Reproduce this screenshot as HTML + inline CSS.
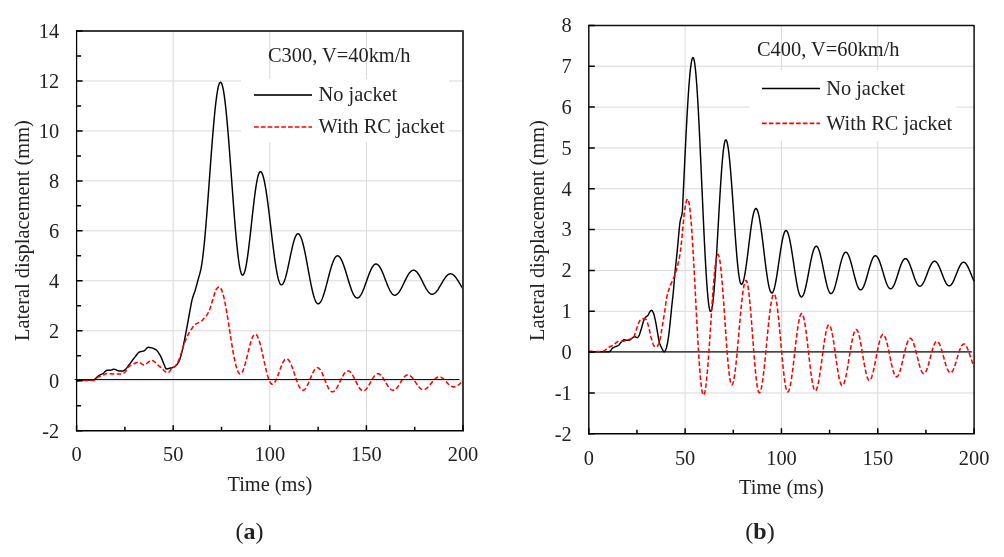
<!DOCTYPE html>
<html><head><meta charset="utf-8"><style>
html,body{margin:0;padding:0;background:#fff;width:1004px;height:557px;overflow:hidden}
svg{display:block;will-change:transform}
text{font-family:"Liberation Serif", serif;font-size:20.4px;fill:#222}
.cap{font-size:24px}
</style></head><body>
<svg width="1004" height="557" viewBox="0 0 1004 557">
<rect width="1004" height="557" fill="#fff"/>
<path d="M76.60 380.74H463.00 M76.60 330.77H463.00 M76.60 280.81H463.00 M76.60 230.85H463.00 M76.60 180.89H463.00 M76.60 130.93H463.00 M76.60 80.96H463.00 M173.20 31.00V430.70 M269.80 31.00V430.70 M366.40 31.00V430.70" stroke="#d9d9d9" stroke-width="1" fill="none"/>
<path d="M76.60 379.90 L77.10 379.90 L77.60 379.90 L78.10 379.90 L78.60 379.90 L79.10 379.90 L79.60 379.90 L80.10 379.90 L80.60 379.90 L81.10 379.90 L81.60 379.90 L82.10 379.90 L82.60 379.90 L83.10 379.90 L83.60 379.90 L84.10 379.90 L84.60 379.90 L85.10 379.90 L85.60 379.90 L86.10 379.90 L86.60 379.90 L87.10 379.90 L87.60 379.90 L88.10 379.90 L88.60 379.90 L89.10 379.90 L89.60 379.90 L90.10 379.90 L90.60 379.90 L91.10 379.90 L91.60 379.90 L92.10 379.90 L92.60 379.90 L93.10 379.90 L93.60 379.89 L94.10 379.69 L94.60 379.30 L95.10 378.88 L95.60 378.49 L96.10 378.05 L96.60 377.59 L97.10 377.11 L97.60 376.63 L98.10 376.18 L98.60 375.78 L99.10 375.44 L99.60 375.15 L100.10 374.90 L100.60 374.67 L101.10 374.44 L101.60 374.22 L102.10 373.98 L102.60 373.72 L103.10 373.40 L103.60 372.99 L104.10 372.52 L104.60 372.02 L105.10 371.52 L105.60 371.07 L106.10 370.69 L106.60 370.43 L107.10 370.30 L107.60 370.30 L108.10 370.30 L108.60 370.30 L109.10 370.30 L109.60 370.30 L110.10 370.30 L110.60 370.23 L111.10 370.10 L111.60 369.92 L112.10 369.72 L112.60 369.54 L113.10 369.39 L113.60 369.31 L114.10 369.32 L114.60 369.40 L115.10 369.53 L115.60 369.68 L116.10 369.83 L116.60 370.04 L117.10 370.31 L117.60 370.58 L118.10 370.79 L118.60 370.90 L119.10 370.90 L119.60 370.90 L120.10 370.90 L120.60 370.90 L121.10 370.90 L121.60 370.90 L122.10 370.90 L122.60 370.90 L123.10 370.90 L123.60 370.79 L124.10 370.50 L124.60 370.10 L125.10 369.67 L125.60 369.24 L126.10 368.74 L126.60 368.17 L127.10 367.54 L127.60 366.87 L128.10 366.19 L128.60 365.49 L129.10 364.80 L129.60 364.13 L130.10 363.48 L130.60 362.82 L131.10 362.14 L131.60 361.46 L132.10 360.78 L132.60 360.09 L133.10 359.42 L133.60 358.76 L134.10 358.12 L134.60 357.50 L135.10 356.87 L135.60 356.20 L136.10 355.52 L136.60 354.84 L137.10 354.19 L137.60 353.58 L138.10 353.03 L138.60 352.57 L139.10 352.20 L139.60 351.96 L140.10 351.79 L140.60 351.66 L141.10 351.55 L141.60 351.46 L142.10 351.37 L142.60 351.27 L143.10 351.15 L143.60 351.01 L144.10 350.81 L144.60 350.47 L145.10 350.00 L145.60 349.46 L146.10 348.89 L146.60 348.34 L147.10 347.87 L147.60 347.51 L148.10 347.32 L148.60 347.31 L149.10 347.35 L149.60 347.43 L150.10 347.53 L150.60 347.65 L151.10 347.77 L151.60 347.90 L152.10 348.03 L152.60 348.18 L153.10 348.35 L153.60 348.54 L154.10 348.76 L154.60 348.99 L155.10 349.26 L155.60 349.55 L156.10 349.87 L156.60 350.27 L157.10 350.78 L157.60 351.38 L158.10 352.06 L158.60 352.80 L159.10 353.59 L159.60 354.42 L160.10 355.28 L160.60 356.16 L161.10 357.20 L161.60 358.36 L162.10 359.60 L162.60 360.87 L163.10 362.11 L163.60 363.28 L164.10 364.46 L164.60 365.79 L165.10 367.11 L165.60 368.20 L166.10 368.88 L166.60 368.99 L167.10 368.93 L167.60 368.82 L168.10 368.68 L168.60 368.53 L169.10 368.40 L169.60 368.29 L170.10 368.18 L170.60 368.08 L171.10 367.97 L171.60 367.84 L172.10 367.70 L172.60 367.53 L173.10 367.33 L173.60 367.09 L174.10 366.81 L174.60 366.50 L175.10 366.16 L175.60 365.78 L176.10 365.35 L176.60 364.85 L177.10 364.27 L177.60 363.61 L178.10 362.87 L178.60 362.03 L179.10 361.10 L179.60 359.93 L180.10 358.48 L180.60 356.82 L181.10 355.00 L181.60 353.07 L182.10 351.09 L182.60 349.08 L183.10 346.91 L183.60 344.59 L184.10 342.14 L184.60 339.60 L185.10 336.99 L185.60 334.34 L186.10 331.68 L186.60 329.03 L187.10 326.36 L187.60 323.61 L188.10 320.82 L188.60 318.05 L189.10 315.27 L189.60 312.48 L190.10 309.76 L190.60 307.10 L191.10 304.42 L191.60 301.89 L192.10 299.70 L192.60 297.89 L193.10 296.31 L193.60 294.86 L194.10 293.48 L194.60 292.07 L195.10 290.55 L195.60 288.88 L196.10 287.10 L196.60 285.26 L197.10 283.38 L197.60 281.49 L198.10 279.63 L198.60 277.85 L199.10 276.11 L199.60 274.35 L200.10 272.50 L200.60 270.48 L201.10 268.20 L201.60 265.39 L202.10 262.16 L202.60 258.51 L203.10 254.45 L203.60 250.02 L204.10 245.22 L204.60 240.09 L205.10 234.64 L205.60 228.92 L206.10 222.94 L206.60 216.74 L207.10 210.34 L207.60 203.79 L208.10 197.11 L208.60 190.33 L209.10 183.50 L209.60 176.64 L210.10 169.80 L210.60 163.00 L211.10 156.27 L211.60 149.66 L212.10 143.20 L212.60 136.92 L213.10 130.85 L213.60 125.02 L214.10 119.46 L214.60 114.20 L215.10 109.26 L215.60 104.68 L216.10 100.47 L216.60 96.66 L217.10 93.25 L217.60 90.29 L218.10 87.76 L218.60 85.70 L219.10 84.11 L219.60 82.99 L220.10 82.37 L220.60 82.21 L221.10 82.54 L221.60 83.37 L222.10 84.68 L222.60 86.46 L223.10 88.71 L223.60 91.42 L224.10 94.56 L224.60 98.13 L225.10 102.11 L225.60 106.47 L226.10 111.19 L226.60 116.26 L227.10 121.65 L227.60 127.32 L228.10 133.25 L228.60 139.41 L229.10 145.77 L229.60 152.29 L230.10 158.95 L230.60 165.71 L231.10 172.53 L231.60 179.39 L232.10 186.24 L232.60 193.05 L233.10 199.79 L233.60 206.42 L234.10 212.92 L234.60 219.24 L235.10 225.36 L235.60 231.24 L236.10 236.85 L236.60 242.18 L237.10 247.18 L237.60 251.83 L238.10 256.12 L238.60 260.02 L239.10 263.50 L239.60 266.56 L240.10 269.17 L240.60 271.33 L241.10 273.01 L241.60 274.23 L242.10 274.96 L242.60 275.20 L243.10 275.00 L243.60 274.39 L244.10 273.39 L244.60 272.00 L245.10 270.24 L245.60 268.11 L246.10 265.63 L246.60 262.82 L247.10 259.70 L247.60 256.30 L248.10 252.65 L248.60 248.77 L249.10 244.69 L249.60 240.45 L250.10 236.07 L250.60 231.59 L251.10 227.05 L251.60 222.49 L252.10 217.92 L252.60 213.41 L253.10 208.97 L253.60 204.64 L254.10 200.45 L254.60 196.45 L255.10 192.66 L255.60 189.10 L256.10 185.81 L256.60 182.82 L257.10 180.14 L257.60 177.80 L258.10 175.81 L258.60 174.19 L259.10 172.96 L259.60 172.11 L260.10 171.69 L260.60 171.63 L261.10 171.90 L261.60 172.51 L262.10 173.42 L262.60 174.64 L263.10 176.16 L263.60 177.97 L264.10 180.06 L264.60 182.42 L265.10 185.04 L265.60 187.89 L266.10 190.98 L266.60 194.27 L267.10 197.75 L267.60 201.41 L268.10 205.21 L268.60 209.14 L269.10 213.18 L269.60 217.30 L270.10 221.49 L270.60 225.71 L271.10 229.94 L271.60 234.17 L272.10 238.37 L272.60 242.50 L273.10 246.56 L273.60 250.51 L274.10 254.35 L274.60 258.03 L275.10 261.55 L275.60 264.88 L276.10 268.01 L276.60 270.91 L277.10 273.58 L277.60 275.99 L278.10 278.14 L278.60 280.00 L279.10 281.58 L279.60 282.86 L280.10 283.83 L280.60 284.50 L281.10 284.83 L281.60 284.88 L282.10 284.68 L282.60 284.25 L283.10 283.59 L283.60 282.71 L284.10 281.63 L284.60 280.35 L285.10 278.88 L285.60 277.23 L286.10 275.42 L286.60 273.47 L287.10 271.39 L287.60 269.21 L288.10 266.93 L288.60 264.59 L289.10 262.20 L289.60 259.78 L290.10 257.36 L290.60 254.96 L291.10 252.60 L291.60 250.29 L292.10 248.07 L292.60 245.95 L293.10 243.94 L293.60 242.07 L294.10 240.36 L294.60 238.82 L295.10 237.46 L295.60 236.30 L296.10 235.34 L296.60 234.59 L297.10 234.07 L297.60 233.78 L298.10 233.71 L298.60 233.85 L299.10 234.21 L299.60 234.79 L300.10 235.57 L300.60 236.55 L301.10 237.73 L301.60 239.10 L302.10 240.65 L302.60 242.37 L303.10 244.26 L303.60 246.29 L304.10 248.46 L304.60 250.75 L305.10 253.16 L305.60 255.65 L306.10 258.23 L306.60 260.87 L307.10 263.56 L307.60 266.29 L308.10 269.02 L308.60 271.76 L309.10 274.48 L309.60 277.16 L310.10 279.79 L310.60 282.35 L311.10 284.83 L311.60 287.21 L312.10 289.48 L312.60 291.63 L313.10 293.63 L313.60 295.48 L314.10 297.17 L314.60 298.68 L315.10 300.02 L315.60 301.16 L316.10 302.10 L316.60 302.84 L317.10 303.37 L317.60 303.69 L318.10 303.80 L318.60 303.72 L319.10 303.49 L319.60 303.09 L320.10 302.55 L320.60 301.86 L321.10 301.02 L321.60 300.05 L322.10 298.94 L322.60 297.70 L323.10 296.35 L323.60 294.89 L324.10 293.33 L324.60 291.69 L325.10 289.96 L325.60 288.17 L326.10 286.32 L326.60 284.43 L327.10 282.51 L327.60 280.58 L328.10 278.63 L328.60 276.70 L329.10 274.78 L329.60 272.90 L330.10 271.07 L330.60 269.29 L331.10 267.58 L331.60 265.95 L332.10 264.41 L332.60 262.97 L333.10 261.64 L333.60 260.43 L334.10 259.35 L334.60 258.40 L335.10 257.59 L335.60 256.93 L336.10 256.42 L336.60 256.06 L337.10 255.86 L337.60 255.80 L338.10 255.89 L338.60 256.12 L339.10 256.48 L339.60 256.97 L340.10 257.59 L340.60 258.33 L341.10 259.18 L341.60 260.15 L342.10 261.23 L342.60 262.40 L343.10 263.67 L343.60 265.02 L344.10 266.45 L344.60 267.94 L345.10 269.49 L345.60 271.09 L346.10 272.72 L346.60 274.38 L347.10 276.06 L347.60 277.74 L348.10 279.42 L348.60 281.08 L349.10 282.71 L349.60 284.31 L350.10 285.86 L350.60 287.35 L351.10 288.78 L351.60 290.13 L352.10 291.40 L352.60 292.57 L353.10 293.65 L353.60 294.62 L354.10 295.47 L354.60 296.21 L355.10 296.83 L355.60 297.32 L356.10 297.68 L356.60 297.91 L357.10 298.00 L357.60 297.96 L358.10 297.81 L358.60 297.54 L359.10 297.15 L359.60 296.65 L360.10 296.04 L360.60 295.33 L361.10 294.52 L361.60 293.61 L362.10 292.61 L362.60 291.54 L363.10 290.39 L363.60 289.17 L364.10 287.90 L364.60 286.58 L365.10 285.22 L365.60 283.83 L366.10 282.42 L366.60 281.00 L367.10 279.58 L367.60 278.17 L368.10 276.78 L368.60 275.42 L369.10 274.10 L369.60 272.83 L370.10 271.61 L370.60 270.46 L371.10 269.39 L371.60 268.39 L372.10 267.48 L372.60 266.67 L373.10 265.96 L373.60 265.35 L374.10 264.85 L374.60 264.46 L375.10 264.19 L375.60 264.04 L376.10 264.00 L376.60 264.08 L377.10 264.26 L377.60 264.56 L378.10 264.96 L378.60 265.46 L379.10 266.07 L379.60 266.77 L380.10 267.56 L380.60 268.43 L381.10 269.38 L381.60 270.41 L382.10 271.50 L382.60 272.65 L383.10 273.84 L383.60 275.08 L384.10 276.35 L384.60 277.64 L385.10 278.94 L385.60 280.26 L386.10 281.56 L386.60 282.85 L387.10 284.12 L387.60 285.36 L388.10 286.55 L388.60 287.70 L389.10 288.79 L389.60 289.82 L390.10 290.77 L390.60 291.64 L391.10 292.43 L391.60 293.13 L392.10 293.74 L392.60 294.24 L393.10 294.64 L393.60 294.94 L394.10 295.12 L394.60 295.20 L395.10 295.17 L395.60 295.06 L396.10 294.86 L396.60 294.57 L397.10 294.21 L397.60 293.76 L398.10 293.24 L398.60 292.64 L399.10 291.97 L399.60 291.24 L400.10 290.45 L400.60 289.60 L401.10 288.71 L401.60 287.77 L402.10 286.80 L402.60 285.80 L403.10 284.78 L403.60 283.74 L404.10 282.70 L404.60 281.66 L405.10 280.62 L405.60 279.60 L406.10 278.60 L406.60 277.63 L407.10 276.69 L407.60 275.80 L408.10 274.95 L408.60 274.16 L409.10 273.43 L409.60 272.76 L410.10 272.16 L410.60 271.64 L411.10 271.19 L411.60 270.83 L412.10 270.54 L412.60 270.34 L413.10 270.23 L413.60 270.20 L414.10 270.26 L414.60 270.41 L415.10 270.63 L415.60 270.95 L416.10 271.34 L416.60 271.81 L417.10 272.35 L417.60 272.96 L418.10 273.64 L418.60 274.38 L419.10 275.18 L419.60 276.03 L420.10 276.92 L420.60 277.84 L421.10 278.80 L421.60 279.78 L422.10 280.78 L422.60 281.79 L423.10 282.81 L423.60 283.82 L424.10 284.81 L424.60 285.79 L425.10 286.75 L425.60 287.67 L426.10 288.55 L426.60 289.38 L427.10 290.17 L427.60 290.90 L428.10 291.56 L428.60 292.16 L429.10 292.69 L429.60 293.15 L430.10 293.52 L430.60 293.82 L431.10 294.03 L431.60 294.16 L432.10 294.20 L432.60 294.16 L433.10 294.05 L433.60 293.87 L434.10 293.61 L434.60 293.28 L435.10 292.89 L435.60 292.43 L436.10 291.91 L436.60 291.33 L437.10 290.70 L437.60 290.02 L438.10 289.30 L438.60 288.54 L439.10 287.74 L439.60 286.92 L440.10 286.08 L440.60 285.22 L441.10 284.35 L441.60 283.48 L442.10 282.61 L442.60 281.75 L443.10 280.91 L443.60 280.10 L444.10 279.31 L444.60 278.55 L445.10 277.84 L445.60 277.17 L446.10 276.55 L446.60 275.98 L447.10 275.47 L447.60 275.03 L448.10 274.64 L448.60 274.33 L449.10 274.09 L449.60 273.92 L450.10 273.83 L450.60 273.80 L451.10 273.85 L451.60 273.97 L452.10 274.16 L452.60 274.42 L453.10 274.74 L453.60 275.13 L454.10 275.58 L454.60 276.09 L455.10 276.66 L455.60 277.27 L456.10 277.93 L456.60 278.63 L457.10 279.37 L457.60 280.13 L458.10 280.93 L458.60 281.74 L459.10 282.56 L459.60 283.40 L460.10 284.23 L460.60 285.07 L461.10 285.89 L461.60 286.69 L462.10 287.48 L462.60 288.23 L463.00 288.82" stroke="#000" stroke-width="1.45" fill="none" stroke-linejoin="round"/>
<path d="M76.60 380.60 L77.10 380.60 L77.60 380.60 L78.10 380.60 L78.60 380.60 L79.10 380.60 L79.60 380.60 L80.10 380.59 L80.60 380.59 L81.10 380.59 L81.60 380.59 L82.10 380.58 L82.60 380.58 L83.10 380.58 L83.60 380.57 L84.10 380.57 L84.60 380.57 L85.10 380.56 L85.60 380.55 L86.10 380.55 L86.60 380.54 L87.10 380.54 L87.60 380.53 L88.10 380.52 L88.60 380.51 L89.10 380.50 L89.60 380.49 L90.10 380.48 L90.60 380.47 L91.10 380.46 L91.60 380.45 L92.10 380.44 L92.60 380.42 L93.10 380.41 L93.60 380.39 L94.10 380.26 L94.60 379.99 L95.10 379.61 L95.60 379.17 L96.10 378.68 L96.60 378.20 L97.10 377.75 L97.60 377.38 L98.10 377.10 L98.60 376.85 L99.10 376.63 L99.60 376.42 L100.10 376.22 L100.60 376.03 L101.10 375.85 L101.60 375.67 L102.10 375.49 L102.60 375.30 L103.10 375.12 L103.60 374.92 L104.10 374.69 L104.60 374.44 L105.10 374.18 L105.60 373.93 L106.10 373.71 L106.60 373.52 L107.10 373.38 L107.60 373.31 L108.10 373.31 L108.60 373.35 L109.10 373.43 L109.60 373.52 L110.10 373.62 L110.60 373.72 L111.10 373.81 L111.60 373.87 L112.10 373.90 L112.60 373.90 L113.10 373.90 L113.60 373.90 L114.10 373.90 L114.60 373.90 L115.10 373.90 L115.60 373.90 L116.10 373.90 L116.60 373.90 L117.10 373.90 L117.60 373.90 L118.10 373.90 L118.60 373.90 L119.10 373.90 L119.60 373.90 L120.10 373.90 L120.60 373.90 L121.10 373.90 L121.60 373.90 L122.10 373.90 L122.60 373.79 L123.10 373.56 L123.60 373.24 L124.10 372.87 L124.60 372.46 L125.10 372.02 L125.60 371.38 L126.10 370.60 L126.60 369.74 L127.10 368.87 L127.60 368.04 L128.10 367.33 L128.60 366.80 L129.10 366.40 L129.60 366.03 L130.10 365.70 L130.60 365.39 L131.10 365.10 L131.60 364.84 L132.10 364.59 L132.60 364.35 L133.10 364.13 L133.60 363.91 L134.10 363.70 L134.60 363.48 L135.10 363.25 L135.60 363.02 L136.10 362.80 L136.60 362.60 L137.10 362.43 L137.60 362.30 L138.10 362.22 L138.60 362.20 L139.10 362.29 L139.60 362.48 L140.10 362.75 L140.60 363.07 L141.10 363.43 L141.60 363.79 L142.10 364.13 L142.60 364.42 L143.10 364.65 L143.60 364.78 L144.10 364.79 L144.60 364.70 L145.10 364.51 L145.60 364.25 L146.10 363.93 L146.60 363.56 L147.10 363.15 L147.60 362.73 L148.10 362.30 L148.60 361.88 L149.10 361.49 L149.60 361.14 L150.10 360.84 L150.60 360.60 L151.10 360.45 L151.60 360.40 L152.10 360.45 L152.60 360.58 L153.10 360.80 L153.60 361.08 L154.10 361.42 L154.60 361.82 L155.10 362.25 L155.60 362.71 L156.10 363.20 L156.60 363.70 L157.10 364.20 L157.60 364.70 L158.10 365.17 L158.60 365.63 L159.10 366.05 L159.60 366.43 L160.10 366.86 L160.60 367.31 L161.10 367.79 L161.60 368.28 L162.10 368.78 L162.60 369.29 L163.10 369.79 L163.60 370.27 L164.10 370.74 L164.60 371.18 L165.10 371.58 L165.60 371.93 L166.10 372.24 L166.60 372.49 L167.10 372.67 L167.60 372.77 L168.10 372.79 L168.60 372.55 L169.10 372.04 L169.60 371.35 L170.10 370.59 L170.60 369.84 L171.10 369.20 L171.60 368.74 L172.10 368.35 L172.60 368.01 L173.10 367.69 L173.60 367.38 L174.10 367.06 L174.60 366.70 L175.10 366.29 L175.60 365.81 L176.10 365.22 L176.60 364.50 L177.10 363.65 L177.60 362.71 L178.10 361.67 L178.60 360.55 L179.10 359.38 L179.60 358.16 L180.10 356.90 L180.60 355.48 L181.10 353.83 L181.60 352.05 L182.10 350.23 L182.60 348.48 L183.10 346.89 L183.60 345.48 L184.10 344.09 L184.60 342.75 L185.10 341.43 L185.60 340.16 L186.10 338.93 L186.60 337.75 L187.10 336.63 L187.60 335.56 L188.10 334.55 L188.60 333.60 L189.10 332.73 L189.60 331.94 L190.10 331.20 L190.60 330.48 L191.10 329.77 L191.60 329.05 L192.10 328.27 L192.60 327.43 L193.10 326.59 L193.60 325.82 L194.10 325.19 L194.60 324.74 L195.10 324.39 L195.60 324.08 L196.10 323.82 L196.60 323.58 L197.10 323.34 L197.60 323.10 L198.10 322.85 L198.60 322.60 L199.10 322.37 L199.60 322.14 L200.10 321.89 L200.60 321.62 L201.10 321.30 L201.60 320.91 L202.10 320.44 L202.60 319.91 L203.10 319.35 L203.60 318.77 L204.10 318.21 L204.60 317.67 L205.10 317.15 L205.60 316.62 L206.10 316.05 L206.60 315.42 L207.10 314.70 L207.60 313.87 L208.10 312.94 L208.60 311.91 L209.10 310.79 L209.60 309.60 L210.10 308.25 L210.60 306.70 L211.10 305.04 L211.60 303.37 L212.10 301.76 L212.60 300.12 L213.10 298.46 L213.60 296.84 L214.10 295.30 L214.60 293.73 L215.10 292.12 L215.60 290.64 L216.10 289.47 L216.60 288.76 L217.10 288.18 L217.60 287.67 L218.10 287.26 L218.60 287.00 L219.10 286.90 L219.60 287.02 L220.10 287.38 L220.60 287.98 L221.10 288.81 L221.60 289.88 L222.10 291.17 L222.60 292.67 L223.10 294.39 L223.60 296.30 L224.10 298.41 L224.60 300.69 L225.10 303.13 L225.60 305.73 L226.10 308.46 L226.60 311.32 L227.10 314.28 L227.60 317.33 L228.10 320.45 L228.60 323.63 L229.10 326.84 L229.60 330.08 L230.10 333.31 L230.60 336.53 L231.10 339.72 L231.60 342.85 L232.10 345.92 L232.60 348.90 L233.10 351.78 L233.60 354.53 L234.10 357.16 L234.60 359.64 L235.10 361.95 L235.60 364.09 L236.10 366.04 L236.60 367.80 L237.10 369.35 L237.60 370.68 L238.10 371.79 L238.60 372.67 L239.10 373.32 L239.60 373.73 L240.10 373.89 L240.60 373.82 L241.10 373.55 L241.60 373.05 L242.10 372.35 L242.60 371.44 L243.10 370.35 L243.60 369.08 L244.10 367.64 L244.60 366.05 L245.10 364.33 L245.60 362.50 L246.10 360.58 L246.60 358.58 L247.10 356.54 L247.60 354.47 L248.10 352.39 L248.60 350.33 L249.10 348.31 L249.60 346.36 L250.10 344.49 L250.60 342.72 L251.10 341.08 L251.60 339.58 L252.10 338.24 L252.60 337.07 L253.10 336.09 L253.60 335.30 L254.10 334.72 L254.60 334.35 L255.10 334.21 L255.60 334.28 L256.10 334.55 L256.60 335.03 L257.10 335.73 L257.60 336.62 L258.10 337.71 L258.60 338.98 L259.10 340.42 L259.60 342.02 L260.10 343.77 L260.60 345.65 L261.10 347.65 L261.60 349.74 L262.10 351.92 L262.60 354.15 L263.10 356.43 L263.60 358.74 L264.10 361.05 L264.60 363.34 L265.10 365.60 L265.60 367.80 L266.10 369.93 L266.60 371.97 L267.10 373.90 L267.60 375.70 L268.10 377.36 L268.60 378.87 L269.10 380.21 L269.60 381.37 L270.10 382.34 L270.60 383.12 L271.10 383.69 L271.60 384.05 L272.10 384.19 L272.60 384.15 L273.10 383.95 L273.60 383.60 L274.10 383.11 L274.60 382.47 L275.10 381.71 L275.60 380.82 L276.10 379.82 L276.60 378.71 L277.10 377.53 L277.60 376.26 L278.10 374.94 L278.60 373.58 L279.10 372.20 L279.60 370.80 L280.10 369.42 L280.60 368.06 L281.10 366.74 L281.60 365.47 L282.10 364.29 L282.60 363.18 L283.10 362.18 L283.60 361.29 L284.10 360.53 L284.60 359.89 L285.10 359.40 L285.60 359.05 L286.10 358.85 L286.60 358.80 L287.10 358.90 L287.60 359.15 L288.10 359.53 L288.60 360.06 L289.10 360.71 L289.60 361.50 L290.10 362.40 L290.60 363.41 L291.10 364.53 L291.60 365.74 L292.10 367.03 L292.60 368.38 L293.10 369.80 L293.60 371.26 L294.10 372.74 L294.60 374.25 L295.10 375.76 L295.60 377.25 L296.10 378.72 L296.60 380.16 L297.10 381.54 L297.60 382.86 L298.10 384.10 L298.60 385.25 L299.10 386.31 L299.60 387.26 L300.10 388.09 L300.60 388.80 L301.10 389.37 L301.60 389.81 L302.10 390.12 L302.60 390.27 L303.10 390.29 L303.60 390.17 L304.10 389.92 L304.60 389.54 L305.10 389.04 L305.60 388.42 L306.10 387.69 L306.60 386.86 L307.10 385.94 L307.60 384.93 L308.10 383.86 L308.60 382.72 L309.10 381.55 L309.60 380.34 L310.10 379.12 L310.60 377.90 L311.10 376.69 L311.60 375.51 L312.10 374.37 L312.60 373.28 L313.10 372.26 L313.60 371.32 L314.10 370.47 L314.60 369.72 L315.10 369.07 L315.60 368.55 L316.10 368.15 L316.60 367.87 L317.10 367.73 L317.60 367.71 L318.10 367.83 L318.60 368.08 L319.10 368.46 L319.60 368.97 L320.10 369.60 L320.60 370.34 L321.10 371.18 L321.60 372.12 L322.10 373.15 L322.60 374.25 L323.10 375.40 L323.60 376.61 L324.10 377.85 L324.60 379.12 L325.10 380.38 L325.60 381.65 L326.10 382.89 L326.60 384.10 L327.10 385.25 L327.60 386.35 L328.10 387.38 L328.60 388.32 L329.10 389.16 L329.60 389.90 L330.10 390.53 L330.60 391.04 L331.10 391.42 L331.60 391.67 L332.10 391.79 L332.60 391.78 L333.10 391.67 L333.60 391.45 L334.10 391.13 L334.60 390.71 L335.10 390.20 L335.60 389.60 L336.10 388.92 L336.60 388.16 L337.10 387.34 L337.60 386.45 L338.10 385.52 L338.60 384.54 L339.10 383.53 L339.60 382.50 L340.10 381.45 L340.60 380.41 L341.10 379.38 L341.60 378.36 L342.10 377.38 L342.60 376.43 L343.10 375.53 L343.60 374.70 L344.10 373.92 L344.60 373.23 L345.10 372.61 L345.60 372.08 L346.10 371.65 L346.60 371.31 L347.10 371.07 L347.60 370.94 L348.10 370.90 L348.60 370.97 L349.10 371.15 L349.60 371.44 L350.10 371.82 L350.60 372.30 L351.10 372.87 L351.60 373.53 L352.10 374.26 L352.60 375.07 L353.10 375.93 L353.60 376.85 L354.10 377.81 L354.60 378.81 L355.10 379.82 L355.60 380.85 L356.10 381.88 L356.60 382.89 L357.10 383.89 L357.60 384.85 L358.10 385.77 L358.60 386.63 L359.10 387.44 L359.60 388.17 L360.10 388.83 L360.60 389.40 L361.10 389.88 L361.60 390.26 L362.10 390.55 L362.60 390.73 L363.10 390.80 L363.60 390.77 L364.10 390.64 L364.60 390.42 L365.10 390.10 L365.60 389.70 L366.10 389.21 L366.60 388.64 L367.10 388.00 L367.60 387.29 L368.10 386.52 L368.60 385.71 L369.10 384.86 L369.60 383.97 L370.10 383.07 L370.60 382.16 L371.10 381.25 L371.60 380.35 L372.10 379.47 L372.60 378.62 L373.10 377.82 L373.60 377.06 L374.10 376.37 L374.60 375.74 L375.10 375.19 L375.60 374.71 L376.10 374.32 L376.60 374.03 L377.10 373.82 L377.60 373.72 L378.10 373.71 L378.60 373.78 L379.10 373.95 L379.60 374.21 L380.10 374.54 L380.60 374.96 L381.10 375.45 L381.60 376.01 L382.10 376.64 L382.60 377.32 L383.10 378.05 L383.60 378.82 L384.10 379.63 L384.60 380.46 L385.10 381.31 L385.60 382.17 L386.10 383.03 L386.60 383.87 L387.10 384.69 L387.60 385.49 L388.10 386.25 L388.60 386.96 L389.10 387.62 L389.60 388.22 L390.10 388.75 L390.60 389.22 L391.10 389.60 L391.60 389.90 L392.10 390.12 L392.60 390.26 L393.10 390.30 L393.60 390.26 L394.10 390.12 L394.60 389.91 L395.10 389.61 L395.60 389.23 L396.10 388.77 L396.60 388.24 L397.10 387.65 L397.60 387.01 L398.10 386.31 L398.60 385.57 L399.10 384.79 L399.60 383.99 L400.10 383.18 L400.60 382.35 L401.10 381.53 L401.60 380.73 L402.10 379.94 L402.60 379.18 L403.10 378.47 L403.60 377.80 L404.10 377.18 L404.60 376.63 L405.10 376.15 L405.60 375.74 L406.10 375.40 L406.60 375.15 L407.10 374.98 L407.60 374.91 L408.10 374.92 L408.60 375.00 L409.10 375.15 L409.60 375.38 L410.10 375.68 L410.60 376.05 L411.10 376.48 L411.60 376.97 L412.10 377.52 L412.60 378.11 L413.10 378.75 L413.60 379.42 L414.10 380.12 L414.60 380.84 L415.10 381.58 L415.60 382.32 L416.10 383.07 L416.60 383.80 L417.10 384.52 L417.60 385.22 L418.10 385.88 L418.60 386.51 L419.10 387.09 L419.60 387.63 L420.10 388.11 L420.60 388.53 L421.10 388.88 L421.60 389.17 L422.10 389.38 L422.60 389.53 L423.10 389.59 L423.60 389.59 L424.10 389.52 L424.60 389.39 L425.10 389.20 L425.60 388.96 L426.10 388.65 L426.60 388.30 L427.10 387.89 L427.60 387.44 L428.10 386.95 L428.60 386.43 L429.10 385.87 L429.60 385.28 L430.10 384.68 L430.60 384.06 L431.10 383.44 L431.60 382.81 L432.10 382.19 L432.60 381.58 L433.10 380.98 L433.60 380.41 L434.10 379.86 L434.60 379.35 L435.10 378.87 L435.60 378.44 L436.10 378.05 L436.60 377.72 L437.10 377.44 L437.60 377.21 L438.10 377.05 L438.60 376.94 L439.10 376.90 L439.60 376.92 L440.10 377.00 L440.60 377.13 L441.10 377.32 L441.60 377.57 L442.10 377.87 L442.60 378.21 L443.10 378.60 L443.60 379.03 L444.10 379.50 L444.60 379.99 L445.10 380.50 L445.60 381.03 L446.10 381.57 L446.60 382.12 L447.10 382.66 L447.60 383.19 L448.10 383.71 L448.60 384.21 L449.10 384.68 L449.60 385.11 L450.10 385.51 L450.60 385.87 L451.10 386.17 L451.60 386.43 L452.10 386.63 L452.60 386.78 L453.10 386.87 L453.60 386.90 L454.10 386.88 L454.60 386.81 L455.10 386.69 L455.60 386.53 L456.10 386.33 L456.60 386.09 L457.10 385.81 L457.60 385.49 L458.10 385.15 L458.60 384.77 L459.10 384.38 L459.60 383.96 L460.10 383.54 L460.60 383.10 L461.10 382.66 L461.60 382.21 L462.10 381.78 L462.60 381.35 L463.00 381.02" stroke="#f00" stroke-width="1.55" fill="none" stroke-dasharray="4.6 2.4" stroke-linejoin="round"/>
<path d="M74.60 379.50H459.50" stroke="#111" stroke-width="1.15" fill="none"/>
<path d="M76.60 31.00H463.00V430.70" fill="none" stroke="#3c3c3c" stroke-width="2.00" stroke-linejoin="round"/>
<path d="M76.60 30.00V431.50" fill="none" stroke="#000" stroke-width="1.25"/>
<path d="M75.97 430.70H464.00" fill="none" stroke="#000" stroke-width="1.60"/>
<path d="M76.60 430.70h6 M76.60 380.74h6 M76.60 330.77h6 M76.60 280.81h6 M76.60 230.85h6 M76.60 180.89h6 M76.60 130.93h6 M76.60 80.96h6 M76.60 31.00h6 M76.60 405.72h4.5 M76.60 355.76h4.5 M76.60 305.79h4.5 M76.60 255.83h4.5 M76.60 205.87h4.5 M76.60 155.91h4.5 M76.60 105.94h4.5 M76.60 55.98h4.5 M76.60 430.70v-5.5 M173.20 430.70v-5.5 M269.80 430.70v-5.5 M366.40 430.70v-5.5 M463.00 430.70v-5.5 M124.90 430.70v-4 M221.50 430.70v-4 M318.10 430.70v-4 M414.70 430.70v-4" stroke="#000" stroke-width="1.5" fill="none"/>
<rect x="241.0" y="79.0" width="208.0" height="63.0" fill="#fff"/>
<path d="M254.0 94.9H312.0" stroke="#333" stroke-width="2.00" fill="none"/>
<path d="M254.0 127.0H312.0" stroke="#f00" stroke-width="1.7" fill="none" stroke-dasharray="4.7 2.1"/>
<text x="318.6" y="101.4">No jacket</text>
<text x="318.6" y="133.0">With RC jacket</text>
<text x="268.0" y="61.7">C300, V=40km/h</text>
<text x="59.2" y="437.5" text-anchor="end">-2</text>
<text x="59.2" y="387.5" text-anchor="end">0</text>
<text x="59.2" y="337.6" text-anchor="end">2</text>
<text x="59.2" y="287.6" text-anchor="end">4</text>
<text x="59.2" y="237.7" text-anchor="end">6</text>
<text x="59.2" y="187.7" text-anchor="end">8</text>
<text x="59.2" y="137.7" text-anchor="end">10</text>
<text x="59.2" y="87.8" text-anchor="end">12</text>
<text x="59.2" y="37.8" text-anchor="end">14</text>
<text x="76.6" y="461.3" text-anchor="middle">0</text>
<text x="173.2" y="461.3" text-anchor="middle">50</text>
<text x="269.8" y="461.3" text-anchor="middle">100</text>
<text x="366.4" y="461.3" text-anchor="middle">150</text>
<text x="463.0" y="461.3" text-anchor="middle">200</text>
<text x="269.8" y="491.2" text-anchor="middle">Time (ms)</text>
<text transform="translate(28.8 230.6) rotate(-90)" text-anchor="middle">Lateral displacement (mm)</text>
<text x="249.4" y="539.3" text-anchor="middle" class="cap">(<tspan font-weight="bold">a</tspan>)</text>
<path d="M588.80 392.96H974.10 M588.80 352.12H974.10 M588.80 311.28H974.10 M588.80 270.44H974.10 M588.80 229.60H974.10 M588.80 188.76H974.10 M588.80 147.92H974.10 M588.80 107.08H974.10 M588.80 66.24H974.10 M685.12 25.40V433.80 M781.45 25.40V433.80 M877.77 25.40V433.80" stroke="#d9d9d9" stroke-width="1" fill="none"/>
<path d="M588.80 351.90H971.90" stroke="#111" stroke-width="1.15" fill="none"/>
<path d="M588.90 351.80 L589.40 351.80 L589.90 351.80 L590.40 351.80 L590.90 351.80 L591.40 351.80 L591.90 351.80 L592.40 351.80 L592.90 351.80 L593.40 351.80 L593.90 351.80 L594.40 351.80 L594.90 351.80 L595.40 351.80 L595.90 351.80 L596.40 351.80 L596.90 351.80 L597.40 351.80 L597.90 351.80 L598.40 351.80 L598.90 351.80 L599.40 351.80 L599.90 351.80 L600.40 351.80 L600.90 351.80 L601.40 351.80 L601.90 351.80 L602.40 351.80 L602.90 351.80 L603.40 351.80 L603.90 351.80 L604.40 351.80 L604.90 351.80 L605.40 351.80 L605.90 351.80 L606.40 351.80 L606.90 351.80 L607.40 351.80 L607.90 351.80 L608.40 351.80 L608.90 351.80 L609.40 351.71 L609.90 351.39 L610.40 350.88 L610.90 350.25 L611.40 349.58 L611.90 348.90 L612.40 348.30 L612.90 347.84 L613.40 347.53 L613.90 347.29 L614.40 347.08 L614.90 346.88 L615.40 346.69 L615.90 346.49 L616.40 346.27 L616.90 346.06 L617.40 345.85 L617.90 345.61 L618.40 345.33 L618.90 344.96 L619.40 344.44 L619.90 343.82 L620.40 343.15 L620.90 342.49 L621.40 341.90 L621.90 341.40 L622.40 340.87 L622.90 340.36 L623.40 339.95 L623.90 339.72 L624.40 339.73 L624.90 339.88 L625.40 340.06 L625.90 340.19 L626.40 340.20 L626.90 340.20 L627.40 340.20 L627.90 340.20 L628.40 340.20 L628.90 340.20 L629.40 340.16 L629.90 339.94 L630.40 339.57 L630.90 339.12 L631.40 338.65 L631.90 338.22 L632.40 337.86 L632.90 337.48 L633.40 337.08 L633.90 336.75 L634.40 336.54 L634.90 336.52 L635.40 336.73 L635.90 337.06 L636.40 337.41 L636.90 337.65 L637.40 337.66 L637.90 337.27 L638.40 336.63 L638.90 335.88 L639.40 334.76 L639.90 333.33 L640.40 331.71 L640.90 330.06 L641.40 328.46 L641.90 326.67 L642.40 324.78 L642.90 322.96 L643.40 321.37 L643.90 320.15 L644.40 319.11 L644.90 318.20 L645.40 317.45 L645.90 316.91 L646.40 316.53 L646.90 316.23 L647.40 315.88 L647.90 315.35 L648.40 314.51 L648.90 313.50 L649.40 312.55 L649.90 311.84 L650.40 311.16 L650.90 310.60 L651.40 310.31 L651.90 310.46 L652.40 311.02 L652.90 311.85 L653.40 312.80 L653.90 314.21 L654.40 316.11 L654.90 318.30 L655.40 320.56 L655.90 323.12 L656.40 325.97 L656.90 328.92 L657.40 331.76 L657.90 334.77 L658.40 337.82 L658.90 340.53 L659.40 342.54 L659.90 344.05 L660.40 345.31 L660.90 346.41 L661.40 347.40 L661.90 348.42 L662.40 349.45 L662.90 350.40 L663.40 351.17 L663.90 351.67 L664.40 351.79 L664.90 351.36 L665.40 350.45 L665.90 349.25 L666.40 347.92 L666.90 346.06 L667.40 343.58 L667.90 340.69 L668.40 337.55 L668.90 333.82 L669.40 329.49 L669.90 324.82 L670.40 320.10 L670.90 315.16 L671.40 309.98 L671.90 305.00 L672.40 300.57 L672.90 296.25 L673.40 291.30 L673.90 285.50 L674.40 279.45 L674.90 273.83 L675.40 268.69 L675.90 263.76 L676.40 258.95 L676.90 254.13 L677.40 249.20 L677.90 243.84 L678.40 238.11 L678.90 232.43 L679.40 227.24 L679.90 222.96 L680.40 220.00 L680.90 218.16 L681.40 216.62 L681.90 214.56 L682.40 211.13 L682.90 200.46 L683.40 189.83 L683.90 179.17 L684.40 168.54 L684.90 158.03 L685.40 147.70 L685.90 137.63 L686.40 127.89 L686.90 118.55 L687.40 109.68 L687.90 101.33 L688.40 93.57 L688.90 86.45 L689.40 80.03 L689.90 74.33 L690.40 69.42 L690.90 65.32 L691.40 62.05 L691.90 59.65 L692.40 58.12 L692.90 57.53 L693.40 57.86 L693.90 59.14 L694.40 61.45 L694.90 64.74 L695.40 68.98 L695.90 74.14 L696.40 80.18 L696.90 87.05 L697.40 94.70 L697.90 103.06 L698.40 112.07 L698.90 121.66 L699.40 131.74 L699.90 142.25 L700.40 153.09 L700.90 164.19 L701.40 175.44 L701.90 186.77 L702.40 198.08 L702.90 209.28 L703.40 220.28 L703.90 231.00 L704.40 241.35 L704.90 251.25 L705.40 260.61 L705.90 269.37 L706.40 277.45 L706.90 284.80 L707.40 291.34 L707.90 297.04 L708.40 301.84 L708.90 305.70 L709.40 308.61 L709.90 310.54 L710.40 311.39 L710.90 311.30 L711.40 310.34 L711.90 308.42 L712.40 305.63 L712.90 301.98 L713.40 297.52 L713.90 292.29 L714.40 286.36 L714.90 279.77 L715.40 272.61 L715.90 264.94 L716.40 256.86 L716.90 248.44 L717.40 239.78 L717.90 230.97 L718.40 222.10 L718.90 213.27 L719.40 204.58 L719.90 196.10 L720.40 187.95 L720.90 180.19 L721.40 172.92 L721.90 166.21 L722.40 160.14 L722.90 154.77 L723.40 150.15 L723.90 146.34 L724.40 143.37 L724.90 141.29 L725.40 140.12 L725.90 139.82 L726.40 140.31 L726.90 141.56 L727.40 143.51 L727.90 146.17 L728.40 149.48 L728.90 153.43 L729.40 157.98 L729.90 163.07 L730.40 168.66 L730.90 174.70 L731.40 181.10 L731.90 187.83 L732.40 194.80 L732.90 201.94 L733.40 209.19 L733.90 216.46 L734.40 223.70 L734.90 230.81 L735.40 237.74 L735.90 244.40 L736.40 250.74 L736.90 256.69 L737.40 262.18 L737.90 267.17 L738.40 271.60 L738.90 275.43 L739.40 278.61 L739.90 281.13 L740.40 282.94 L740.90 284.03 L741.40 284.40 L741.90 284.18 L742.40 283.51 L742.90 282.41 L743.40 280.89 L743.90 278.97 L744.40 276.66 L744.90 274.00 L745.40 271.02 L745.90 267.75 L746.40 264.23 L746.90 260.50 L747.40 256.60 L747.90 252.59 L748.40 248.50 L748.90 244.40 L749.40 240.31 L749.90 236.30 L750.40 232.40 L750.90 228.67 L751.40 225.15 L751.90 221.88 L752.40 218.90 L752.90 216.24 L753.40 213.93 L753.90 212.01 L754.40 210.49 L754.90 209.39 L755.40 208.72 L755.90 208.50 L756.40 208.71 L756.90 209.32 L757.40 210.34 L757.90 211.76 L758.40 213.55 L758.90 215.71 L759.40 218.21 L759.90 221.02 L760.40 224.13 L760.90 227.50 L761.40 231.09 L761.90 234.87 L762.40 238.81 L762.90 242.87 L763.40 247.00 L763.90 251.17 L764.40 255.33 L764.90 259.45 L765.40 263.49 L765.90 267.40 L766.40 271.15 L766.90 274.70 L767.40 278.01 L767.90 281.06 L768.40 283.82 L768.90 286.25 L769.40 288.34 L769.90 290.06 L770.40 291.39 L770.90 292.33 L771.40 292.85 L771.90 292.99 L772.40 292.74 L772.90 292.08 L773.40 291.07 L773.90 289.69 L774.40 287.97 L774.90 285.94 L775.40 283.60 L775.90 281.00 L776.40 278.17 L776.90 275.13 L777.40 271.93 L777.90 268.61 L778.40 265.20 L778.90 261.75 L779.40 258.30 L779.90 254.89 L780.40 251.57 L780.90 248.37 L781.40 245.33 L781.90 242.50 L782.40 239.90 L782.90 237.56 L783.40 235.53 L783.90 233.81 L784.40 232.43 L784.90 231.42 L785.40 230.76 L785.90 230.51 L786.40 230.62 L786.90 231.06 L787.40 231.85 L787.90 232.97 L788.40 234.41 L788.90 236.15 L789.40 238.18 L789.90 240.48 L790.40 243.02 L790.90 245.77 L791.40 248.72 L791.90 251.81 L792.40 255.03 L792.90 258.35 L793.40 261.72 L793.90 265.11 L794.40 268.48 L794.90 271.81 L795.40 275.05 L795.90 278.18 L796.40 281.15 L796.90 283.95 L797.40 286.53 L797.90 288.88 L798.40 290.96 L798.90 292.77 L799.40 294.27 L799.90 295.45 L800.40 296.31 L800.90 296.82 L801.40 297.00 L801.90 296.86 L802.40 296.43 L802.90 295.72 L803.40 294.74 L803.90 293.51 L804.40 292.02 L804.90 290.31 L805.40 288.38 L805.90 286.27 L806.40 283.99 L806.90 281.57 L807.40 279.04 L807.90 276.42 L808.40 273.75 L808.90 271.06 L809.40 268.37 L809.90 265.72 L810.40 263.14 L810.90 260.65 L811.40 258.28 L811.90 256.07 L812.40 254.02 L812.90 252.18 L813.40 250.56 L813.90 249.17 L814.40 248.03 L814.90 247.16 L815.40 246.56 L815.90 246.26 L816.40 246.23 L816.90 246.45 L817.40 246.96 L817.90 247.72 L818.40 248.74 L818.90 249.99 L819.40 251.46 L819.90 253.14 L820.40 255.01 L820.90 257.05 L821.40 259.23 L821.90 261.53 L822.40 263.93 L822.90 266.39 L823.40 268.89 L823.90 271.41 L824.40 273.91 L824.90 276.36 L825.40 278.74 L825.90 281.02 L826.40 283.17 L826.90 285.18 L827.40 287.01 L827.90 288.65 L828.40 290.08 L828.90 291.29 L829.40 292.25 L829.90 292.96 L830.40 293.42 L830.90 293.59 L831.40 293.52 L831.90 293.22 L832.40 292.69 L832.90 291.94 L833.40 290.97 L833.90 289.80 L834.40 288.44 L834.90 286.90 L835.40 285.21 L835.90 283.38 L836.40 281.43 L836.90 279.38 L837.40 277.26 L837.90 275.09 L838.40 272.90 L838.90 270.71 L839.40 268.54 L839.90 266.42 L840.40 264.37 L840.90 262.42 L841.40 260.59 L841.90 258.90 L842.40 257.36 L842.90 256.00 L843.40 254.83 L843.90 253.86 L844.40 253.11 L844.90 252.58 L845.40 252.28 L845.90 252.21 L846.40 252.35 L846.90 252.71 L847.40 253.28 L847.90 254.04 L848.40 255.00 L848.90 256.14 L849.40 257.44 L849.90 258.90 L850.40 260.49 L850.90 262.21 L851.40 264.02 L851.90 265.91 L852.40 267.86 L852.90 269.85 L853.40 271.85 L853.90 273.84 L854.40 275.80 L854.90 277.71 L855.40 279.54 L855.90 281.27 L856.40 282.89 L856.90 284.38 L857.40 285.72 L857.90 286.89 L858.40 287.88 L858.90 288.69 L859.40 289.29 L859.90 289.70 L860.40 289.88 L860.90 289.86 L861.40 289.66 L861.90 289.25 L862.40 288.67 L862.90 287.90 L863.40 286.97 L863.90 285.87 L864.40 284.63 L864.90 283.26 L865.40 281.77 L865.90 280.17 L866.40 278.50 L866.90 276.76 L867.40 274.97 L867.90 273.16 L868.40 271.35 L868.90 269.55 L869.40 267.79 L869.90 266.09 L870.40 264.46 L870.90 262.93 L871.40 261.50 L871.90 260.21 L872.40 259.05 L872.90 258.05 L873.40 257.22 L873.90 256.56 L874.40 256.08 L874.90 255.80 L875.40 255.70 L875.90 255.79 L876.40 256.05 L876.90 256.49 L877.40 257.09 L877.90 257.86 L878.40 258.78 L878.90 259.85 L879.40 261.04 L879.90 262.36 L880.40 263.78 L880.90 265.29 L881.40 266.88 L881.90 268.52 L882.40 270.20 L882.90 271.91 L883.40 273.62 L883.90 275.31 L884.40 276.97 L884.90 278.58 L885.40 280.13 L885.90 281.59 L886.40 282.95 L886.90 284.19 L887.40 285.31 L887.90 286.29 L888.40 287.12 L888.90 287.79 L889.40 288.30 L889.90 288.63 L890.40 288.78 L890.90 288.76 L891.40 288.58 L891.90 288.23 L892.40 287.71 L892.90 287.04 L893.40 286.21 L893.90 285.24 L894.40 284.15 L894.90 282.93 L895.40 281.62 L895.90 280.21 L896.40 278.73 L896.90 277.19 L897.40 275.62 L897.90 274.02 L898.40 272.42 L898.90 270.83 L899.40 269.28 L899.90 267.77 L900.40 266.34 L900.90 264.98 L901.40 263.72 L901.90 262.58 L902.40 261.56 L902.90 260.68 L903.40 259.94 L903.90 259.36 L904.40 258.94 L904.90 258.69 L905.40 258.60 L905.90 258.68 L906.40 258.93 L906.90 259.33 L907.40 259.89 L907.90 260.60 L908.40 261.45 L908.90 262.43 L909.40 263.53 L909.90 264.73 L910.40 266.03 L910.90 267.40 L911.40 268.83 L911.90 270.30 L912.40 271.80 L912.90 273.30 L913.40 274.80 L913.90 276.26 L914.40 277.68 L914.90 279.04 L915.40 280.32 L915.90 281.50 L916.40 282.57 L916.90 283.53 L917.40 284.35 L917.90 285.03 L918.40 285.56 L918.90 285.93 L919.40 286.14 L919.90 286.20 L920.40 286.10 L920.90 285.86 L921.40 285.49 L921.90 284.98 L922.40 284.34 L922.90 283.59 L923.40 282.72 L923.90 281.76 L924.40 280.70 L924.90 279.56 L925.40 278.36 L925.90 277.11 L926.40 275.81 L926.90 274.50 L927.40 273.17 L927.90 271.85 L928.40 270.55 L928.90 269.29 L929.40 268.07 L929.90 266.92 L930.40 265.85 L930.90 264.86 L931.40 263.97 L931.90 263.20 L932.40 262.54 L932.90 262.00 L933.40 261.60 L933.90 261.33 L934.40 261.21 L934.90 261.23 L935.40 261.38 L935.90 261.68 L936.40 262.11 L936.90 262.68 L937.40 263.37 L937.90 264.17 L938.40 265.09 L938.90 266.10 L939.40 267.20 L939.90 268.37 L940.40 269.60 L940.90 270.87 L941.40 272.18 L941.90 273.50 L942.40 274.82 L942.90 276.13 L943.40 277.40 L943.90 278.63 L944.40 279.80 L944.90 280.90 L945.40 281.91 L945.90 282.83 L946.40 283.63 L946.90 284.32 L947.40 284.89 L947.90 285.32 L948.40 285.62 L948.90 285.77 L949.40 285.79 L949.90 285.67 L950.40 285.40 L950.90 285.00 L951.40 284.47 L951.90 283.81 L952.40 283.04 L952.90 282.16 L953.40 281.18 L953.90 280.12 L954.40 278.99 L954.90 277.79 L955.40 276.55 L955.90 275.28 L956.40 274.00 L956.90 272.72 L957.40 271.45 L957.90 270.21 L958.40 269.01 L958.90 267.88 L959.40 266.82 L959.90 265.84 L960.40 264.96 L960.90 264.19 L961.40 263.53 L961.90 263.00 L962.40 262.60 L962.90 262.33 L963.40 262.21 L963.90 262.23 L964.40 262.37 L964.90 262.65 L965.40 263.06 L965.90 263.60 L966.40 264.25 L966.90 265.02 L967.40 265.88 L967.90 266.84 L968.40 267.88 L968.90 268.99 L969.40 270.15 L969.90 271.36 L970.40 272.60 L970.90 273.85 L971.40 275.10 L971.90 276.34 L972.40 277.55 L972.90 278.71 L973.40 279.82 L973.90 280.86 L974.10 281.26" stroke="#000" stroke-width="1.45" fill="none" stroke-linejoin="round"/>
<path d="M588.90 351.20 L589.40 351.24 L589.90 351.27 L590.40 351.31 L590.90 351.33 L591.40 351.36 L591.90 351.38 L592.40 351.40 L592.90 351.42 L593.40 351.44 L593.90 351.45 L594.40 351.46 L594.90 351.47 L595.40 351.48 L595.90 351.48 L596.40 351.49 L596.90 351.49 L597.40 351.50 L597.90 351.50 L598.40 351.50 L598.90 351.50 L599.40 351.50 L599.90 351.50 L600.40 351.49 L600.90 351.45 L601.40 351.39 L601.90 351.31 L602.40 351.21 L602.90 351.09 L603.40 350.97 L603.90 350.83 L604.40 350.64 L604.90 350.34 L605.40 349.95 L605.90 349.50 L606.40 349.03 L606.90 348.56 L607.40 348.13 L607.90 347.76 L608.40 347.47 L608.90 347.20 L609.40 346.95 L609.90 346.71 L610.40 346.49 L610.90 346.27 L611.40 346.04 L611.90 345.81 L612.40 345.57 L612.90 345.31 L613.40 345.02 L613.90 344.67 L614.40 344.27 L614.90 343.84 L615.40 343.40 L615.90 342.95 L616.40 342.53 L616.90 342.13 L617.40 341.79 L617.90 341.51 L618.40 341.31 L618.90 341.21 L619.40 341.20 L619.90 341.20 L620.40 341.20 L620.90 341.20 L621.40 341.20 L621.90 341.20 L622.40 341.20 L622.90 341.20 L623.40 341.19 L623.90 341.13 L624.40 341.04 L624.90 340.91 L625.40 340.76 L625.90 340.59 L626.40 340.42 L626.90 340.26 L627.40 340.11 L627.90 339.93 L628.40 339.75 L628.90 339.55 L629.40 339.35 L629.90 339.15 L630.40 338.96 L630.90 338.79 L631.40 338.65 L631.90 338.55 L632.40 338.45 L632.90 338.32 L633.40 338.04 L633.90 337.09 L634.40 335.66 L634.90 334.08 L635.40 332.64 L635.90 331.11 L636.40 329.51 L636.90 327.91 L637.40 326.41 L637.90 325.08 L638.40 323.74 L638.90 322.44 L639.40 321.29 L639.90 320.43 L640.40 319.94 L640.90 319.55 L641.40 319.21 L641.90 318.94 L642.40 318.73 L642.90 318.62 L643.40 318.61 L643.90 318.66 L644.40 318.77 L644.90 318.94 L645.40 319.16 L645.90 319.42 L646.40 319.79 L646.90 320.76 L647.40 322.27 L647.90 324.09 L648.40 326.00 L648.90 327.84 L649.40 329.94 L649.90 332.25 L650.40 334.58 L650.90 336.73 L651.40 338.53 L651.90 340.24 L652.40 341.94 L652.90 343.50 L653.40 344.82 L653.90 345.78 L654.40 346.26 L654.90 346.54 L655.40 346.77 L655.90 346.93 L656.40 347.00 L656.90 346.86 L657.40 346.34 L657.90 345.50 L658.40 344.44 L658.90 343.23 L659.40 341.92 L659.90 340.08 L660.40 337.60 L660.90 334.71 L661.40 331.59 L661.90 328.47 L662.40 325.53 L662.90 322.66 L663.40 319.73 L663.90 316.73 L664.40 313.64 L664.90 310.44 L665.40 306.81 L665.90 302.98 L666.40 299.41 L666.90 296.60 L667.40 294.48 L667.90 292.63 L668.40 291.00 L668.90 289.51 L669.40 288.10 L669.90 286.70 L670.40 285.35 L670.90 284.11 L671.40 282.95 L671.90 281.83 L672.40 280.74 L672.90 279.64 L673.40 278.50 L673.90 277.30 L674.40 276.02 L674.90 274.61 L675.40 273.13 L675.90 271.58 L676.40 269.96 L676.90 268.24 L677.40 266.40 L677.90 264.44 L678.40 262.34 L678.90 260.06 L679.40 257.50 L679.90 254.60 L680.40 251.34 L680.90 247.63 L681.40 243.04 L681.90 237.86 L682.40 232.55 L682.90 227.45 L683.40 221.89 L683.90 216.38 L684.40 211.73 L684.90 208.59 L685.40 205.87 L685.90 203.39 L686.40 201.30 L686.90 199.77 L687.40 198.98 L687.90 199.11 L688.40 200.11 L688.90 202.12 L689.40 205.04 L689.90 208.86 L690.40 213.54 L690.90 219.03 L691.40 225.29 L691.90 232.24 L692.40 239.83 L692.90 247.97 L693.40 256.60 L693.90 265.61 L694.40 274.94 L694.90 284.48 L695.40 294.14 L695.90 303.83 L696.40 313.46 L696.90 322.92 L697.40 332.13 L697.90 341.00 L698.40 349.44 L698.90 357.37 L699.40 364.72 L699.90 371.40 L700.40 377.36 L700.90 382.53 L701.40 386.88 L701.90 390.34 L702.40 392.90 L702.90 394.54 L703.40 395.17 L703.90 394.90 L704.40 393.84 L704.90 391.94 L705.40 389.23 L705.90 385.77 L706.40 381.57 L706.90 376.70 L707.40 371.22 L707.90 365.18 L708.40 358.66 L708.90 351.74 L709.40 344.50 L709.90 337.03 L710.40 329.41 L710.90 321.73 L711.40 314.09 L711.90 306.58 L712.40 299.29 L712.90 292.29 L713.40 285.69 L713.90 279.55 L714.40 273.95 L714.90 268.95 L715.40 264.62 L715.90 261.00 L716.40 258.14 L716.90 256.07 L717.40 254.82 L717.90 254.40 L718.40 254.82 L718.90 256.07 L719.40 258.12 L719.90 260.96 L720.40 264.55 L720.90 268.85 L721.40 273.79 L721.90 279.32 L722.40 285.36 L722.90 291.84 L723.40 298.68 L723.90 305.79 L724.40 313.07 L724.90 320.44 L725.40 327.80 L725.90 335.05 L726.40 342.11 L726.90 348.88 L727.40 355.29 L727.90 361.23 L728.40 366.65 L728.90 371.47 L729.40 375.62 L729.90 379.07 L730.40 381.75 L730.90 383.65 L731.40 384.70 L731.90 384.98 L732.40 384.56 L732.90 383.47 L733.40 381.76 L733.90 379.46 L734.40 376.59 L734.90 373.18 L735.40 369.27 L735.90 364.92 L736.40 360.18 L736.90 355.09 L737.40 349.74 L737.90 344.18 L738.40 338.47 L738.90 332.70 L739.40 326.93 L739.90 321.22 L740.40 315.66 L740.90 310.31 L741.40 305.22 L741.90 300.48 L742.40 296.13 L742.90 292.22 L743.40 288.81 L743.90 285.94 L744.40 283.64 L744.90 281.93 L745.40 280.84 L745.90 280.42 L746.40 280.68 L746.90 281.67 L747.40 283.45 L747.90 285.97 L748.40 289.19 L748.90 293.08 L749.40 297.57 L749.90 302.61 L750.40 308.12 L750.90 314.03 L751.40 320.25 L751.90 326.70 L752.40 333.28 L752.90 339.92 L753.40 346.50 L753.90 352.95 L754.40 359.17 L754.90 365.08 L755.40 370.59 L755.90 375.63 L756.40 380.12 L756.90 384.01 L757.40 387.23 L757.90 389.75 L758.40 391.53 L758.90 392.52 L759.40 392.78 L759.90 392.41 L760.40 391.45 L760.90 389.94 L761.40 387.91 L761.90 385.37 L762.40 382.35 L762.90 378.89 L763.40 375.02 L763.90 370.79 L764.40 366.25 L764.90 361.45 L765.40 356.44 L765.90 351.28 L766.40 346.04 L766.90 340.76 L767.40 335.52 L767.90 330.36 L768.40 325.35 L768.90 320.55 L769.40 316.01 L769.90 311.78 L770.40 307.91 L770.90 304.45 L771.40 301.43 L771.90 298.89 L772.40 296.86 L772.90 295.35 L773.40 294.39 L773.90 294.02 L774.40 294.23 L774.90 295.04 L775.40 296.51 L775.90 298.58 L776.40 301.24 L776.90 304.44 L777.40 308.16 L777.90 312.32 L778.40 316.90 L778.90 321.81 L779.40 327.01 L779.90 332.41 L780.40 337.95 L780.90 343.56 L781.40 349.16 L781.90 354.69 L782.40 360.05 L782.90 365.20 L783.40 370.05 L783.90 374.54 L784.40 378.63 L784.90 382.24 L785.40 385.34 L785.90 387.89 L786.40 389.84 L786.90 391.18 L787.40 391.86 L787.90 391.95 L788.40 391.53 L788.90 390.59 L789.40 389.18 L789.90 387.31 L790.40 385.01 L790.90 382.30 L791.40 379.22 L791.90 375.80 L792.40 372.10 L792.90 368.15 L793.40 364.00 L793.90 359.72 L794.40 355.34 L794.90 350.94 L795.40 346.55 L795.90 342.25 L796.40 338.07 L796.90 334.08 L797.40 330.32 L797.90 326.84 L798.40 323.69 L798.90 320.91 L799.40 318.52 L799.90 316.56 L800.40 315.06 L800.90 314.03 L801.40 313.51 L801.90 313.45 L802.40 313.89 L802.90 314.87 L803.40 316.35 L803.90 318.29 L804.40 320.69 L804.90 323.51 L805.40 326.71 L805.90 330.25 L806.40 334.08 L806.90 338.15 L807.40 342.41 L807.90 346.80 L808.40 351.25 L808.90 355.72 L809.40 360.15 L809.90 364.46 L810.40 368.62 L810.90 372.55 L811.40 376.21 L811.90 379.55 L812.40 382.52 L812.90 385.09 L813.40 387.22 L813.90 388.89 L814.40 390.06 L814.90 390.72 L815.40 390.89 L815.90 390.60 L816.40 389.84 L816.90 388.67 L817.40 387.09 L817.90 385.12 L818.40 382.78 L818.90 380.12 L819.40 377.15 L819.90 373.93 L820.40 370.50 L820.90 366.90 L821.40 363.17 L821.90 359.38 L822.40 355.56 L822.90 351.78 L823.40 348.07 L823.90 344.50 L824.40 341.11 L824.90 337.93 L825.40 335.03 L825.90 332.42 L826.40 330.16 L826.90 328.27 L827.40 326.76 L827.90 325.68 L828.40 325.02 L828.90 324.80 L829.40 325.01 L829.90 325.65 L830.40 326.69 L830.90 328.13 L831.40 329.95 L831.90 332.12 L832.40 334.61 L832.90 337.39 L833.40 340.42 L833.90 343.65 L834.40 347.04 L834.90 350.55 L835.40 354.12 L835.90 357.71 L836.40 361.26 L836.90 364.73 L837.40 368.07 L837.90 371.22 L838.40 374.15 L838.90 376.82 L839.40 379.19 L839.90 381.22 L840.40 382.89 L840.90 384.18 L841.40 385.06 L841.90 385.51 L842.40 385.56 L842.90 385.26 L843.40 384.59 L843.90 383.59 L844.40 382.25 L844.90 380.61 L845.40 378.67 L845.90 376.48 L846.40 374.04 L846.90 371.39 L847.40 368.57 L847.90 365.62 L848.40 362.56 L848.90 359.44 L849.40 356.29 L849.90 353.16 L850.40 350.09 L850.90 347.11 L851.40 344.26 L851.90 341.58 L852.40 339.10 L852.90 336.85 L853.40 334.86 L853.90 333.15 L854.40 331.76 L854.90 330.69 L855.40 329.95 L855.90 329.58 L856.40 329.54 L856.90 329.85 L857.40 330.54 L857.90 331.58 L858.40 332.96 L858.90 334.65 L859.40 336.63 L859.90 338.88 L860.40 341.35 L860.90 344.02 L861.40 346.85 L861.90 349.80 L862.40 352.82 L862.90 355.86 L863.40 358.90 L863.90 361.88 L864.40 364.76 L864.90 367.50 L865.40 370.06 L865.90 372.40 L866.40 374.49 L866.90 376.30 L867.40 377.80 L867.90 378.98 L868.40 379.81 L868.90 380.27 L869.40 380.39 L869.90 380.19 L870.40 379.68 L870.90 378.87 L871.40 377.79 L871.90 376.44 L872.40 374.84 L872.90 373.01 L873.40 370.98 L873.90 368.77 L874.40 366.41 L874.90 363.94 L875.40 361.38 L875.90 358.77 L876.40 356.13 L876.90 353.52 L877.40 350.96 L877.90 348.49 L878.40 346.13 L878.90 343.92 L879.40 341.89 L879.90 340.06 L880.40 338.46 L880.90 337.11 L881.40 336.03 L881.90 335.22 L882.40 334.71 L882.90 334.51 L883.40 334.60 L883.90 334.97 L884.40 335.62 L884.90 336.54 L885.40 337.72 L885.90 339.15 L886.40 340.80 L886.90 342.65 L887.40 344.68 L887.90 346.85 L888.40 349.15 L888.90 351.53 L889.40 353.98 L889.90 356.44 L890.40 358.90 L890.90 361.31 L891.40 363.64 L891.90 365.87 L892.40 367.96 L892.90 369.89 L893.40 371.62 L893.90 373.14 L894.40 374.42 L894.90 375.45 L895.40 376.21 L895.90 376.70 L896.40 376.89 L896.90 376.81 L897.40 376.49 L897.90 375.93 L898.40 375.12 L898.90 374.09 L899.40 372.84 L899.90 371.40 L900.40 369.78 L900.90 368.00 L901.40 366.09 L901.90 364.06 L902.40 361.96 L902.90 359.79 L903.40 357.60 L903.90 355.41 L904.40 353.24 L904.90 351.14 L905.40 349.11 L905.90 347.20 L906.40 345.42 L906.90 343.80 L907.40 342.36 L907.90 341.11 L908.40 340.08 L908.90 339.27 L909.40 338.71 L909.90 338.39 L910.40 338.31 L910.90 338.47 L911.40 338.87 L911.90 339.51 L912.40 340.36 L912.90 341.43 L913.40 342.70 L913.90 344.14 L914.40 345.74 L914.90 347.48 L915.40 349.34 L915.90 351.28 L916.40 353.29 L916.90 355.33 L917.40 357.39 L917.90 359.42 L918.40 361.40 L918.90 363.32 L919.40 365.13 L919.90 366.82 L920.40 368.36 L920.90 369.73 L921.40 370.92 L921.90 371.90 L922.40 372.67 L922.90 373.21 L923.40 373.52 L923.90 373.59 L924.40 373.44 L924.90 373.04 L925.40 372.43 L925.90 371.60 L926.40 370.56 L926.90 369.34 L927.40 367.95 L927.90 366.40 L928.40 364.73 L928.90 362.95 L929.40 361.10 L929.90 359.19 L930.40 357.26 L930.90 355.33 L931.40 353.43 L931.90 351.58 L932.40 349.83 L932.90 348.18 L933.40 346.66 L933.90 345.30 L934.40 344.12 L934.90 343.12 L935.40 342.33 L935.90 341.76 L936.40 341.42 L936.90 341.30 L937.40 341.41 L937.90 341.72 L938.40 342.25 L938.90 342.98 L939.40 343.89 L939.90 344.98 L940.40 346.24 L940.90 347.64 L941.40 349.18 L941.90 350.81 L942.40 352.53 L942.90 354.32 L943.40 356.13 L943.90 357.97 L944.40 359.78 L944.90 361.57 L945.40 363.29 L945.90 364.93 L946.40 366.46 L946.90 367.86 L947.40 369.12 L947.90 370.21 L948.40 371.12 L948.90 371.85 L949.40 372.38 L949.90 372.69 L950.40 372.80 L950.90 372.70 L951.40 372.40 L951.90 371.92 L952.40 371.24 L952.90 370.40 L953.40 369.38 L953.90 368.22 L954.40 366.92 L954.90 365.50 L955.40 363.99 L955.90 362.40 L956.40 360.75 L956.90 359.07 L957.40 357.39 L957.90 355.71 L958.40 354.08 L958.90 352.50 L959.40 351.01 L959.90 349.61 L960.40 348.34 L960.90 347.20 L961.40 346.22 L961.90 345.41 L962.40 344.77 L962.90 344.32 L963.40 344.07 L963.90 344.00 L964.40 344.12 L964.90 344.42 L965.40 344.89 L965.90 345.52 L966.40 346.31 L966.90 347.24 L967.40 348.30 L967.90 349.48 L968.40 350.76 L968.90 352.13 L969.40 353.56 L969.90 355.04 L970.40 356.55 L970.90 358.06 L971.40 359.55 L971.90 361.02 L972.40 362.43 L972.90 363.76 L973.40 365.00 L973.90 366.14 L974.10 366.56" stroke="#f00" stroke-width="1.55" fill="none" stroke-dasharray="4.6 2.4" stroke-linejoin="round"/>
<path d="M588.80 25.40H974.10V433.80" fill="none" stroke="#111" stroke-width="1.50" stroke-linejoin="round"/>
<path d="M588.80 24.65V434.55" fill="none" stroke="#000" stroke-width="1.40"/>
<path d="M588.10 433.80H974.85" fill="none" stroke="#000" stroke-width="1.50"/>
<path d="M588.80 433.80h6 M588.80 392.96h6 M588.80 352.12h6 M588.80 311.28h6 M588.80 270.44h6 M588.80 229.60h6 M588.80 188.76h6 M588.80 147.92h6 M588.80 107.08h6 M588.80 66.24h6 M588.80 25.40h6 M588.80 433.80v-5.5 M685.12 433.80v-5.5 M781.45 433.80v-5.5 M877.77 433.80v-5.5 M974.10 433.80v-5.5 M636.96 433.80v-4 M733.29 433.80v-4 M829.61 433.80v-4 M925.94 433.80v-4" stroke="#000" stroke-width="1.5" fill="none"/>
<rect x="749.6" y="70.0" width="206.8" height="71.0" fill="#fff"/>
<path d="M762.0 88.4H820.0" stroke="#000" stroke-width="1.45" fill="none"/>
<path d="M762.0 123.3H820.0" stroke="#f00" stroke-width="1.7" fill="none" stroke-dasharray="4.7 2.1"/>
<text x="826.2" y="95.2">No jacket</text>
<text x="826.2" y="129.8">With RC jacket</text>
<text x="757.0" y="56.3">C400, V=60km/h</text>
<text x="571.8" y="440.6" text-anchor="end">-2</text>
<text x="571.8" y="399.8" text-anchor="end">-1</text>
<text x="571.8" y="358.9" text-anchor="end">0</text>
<text x="571.8" y="318.1" text-anchor="end">1</text>
<text x="571.8" y="277.2" text-anchor="end">2</text>
<text x="571.8" y="236.4" text-anchor="end">3</text>
<text x="571.8" y="195.6" text-anchor="end">4</text>
<text x="571.8" y="154.7" text-anchor="end">5</text>
<text x="571.8" y="113.9" text-anchor="end">6</text>
<text x="571.8" y="73.0" text-anchor="end">7</text>
<text x="571.8" y="32.2" text-anchor="end">8</text>
<text x="588.8" y="464.5" text-anchor="middle">0</text>
<text x="685.1" y="464.5" text-anchor="middle">50</text>
<text x="781.5" y="464.5" text-anchor="middle">100</text>
<text x="877.8" y="464.5" text-anchor="middle">150</text>
<text x="974.1" y="464.5" text-anchor="middle">200</text>
<text x="781.5" y="493.8" text-anchor="middle">Time (ms)</text>
<text transform="translate(543.8 230.5) rotate(-90)" text-anchor="middle">Lateral displacement (mm)</text>
<text x="760.0" y="539.3" text-anchor="middle" class="cap">(<tspan font-weight="bold">b</tspan>)</text>
</svg>
</body></html>
